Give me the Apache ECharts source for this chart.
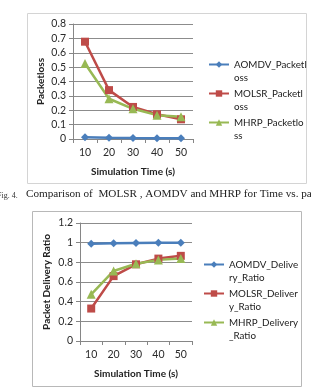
<!DOCTYPE html>
<html><head><meta charset="utf-8">
<script src="https://cdn.jsdelivr.net/npm/echarts@6/dist/echarts.min.js"></script>
<style>html,body{margin:0;padding:0;background:#fff}#c{width:311px;height:389px}</style>
</head><body><div id="c"></div>
<script>
const categories = ['10','20','30','40','50'];
const lossNames = ['AOMDV_Packetloss','MOLSR_Packetloss','MHRP_Packetloss'];
const lossLegend = ['AOMDV_Packetl\noss','MOLSR_Packetl\noss','MHRP_Packetlo\nss'];
const aomdvLoss = [0.013, 0.009, 0.007, 0.006, 0.005];
const molsrLoss = [0.677, 0.34, 0.223, 0.172, 0.137];
const mhrpLoss = [0.525, 0.28, 0.21, 0.166, 0.155];
const pdrNames = ['AOMDV_Delivery_Ratio','MOLSR_Delivery_Ratio','MHRP_Delivery_Ratio'];
const pdrLegend = ['AOMDV_Delive\nry_Ratio','MOLSR_Deliver\ny_Ratio','MHRP_Delivery\n_Ratio'];
const aomdvPdr = [0.99, 0.994, 0.996, 0.998, 1.0];
const molsrPdr = [0.33, 0.66, 0.78, 0.838, 0.866];
const mhrpPdr = [0.475, 0.712, 0.785, 0.825, 0.838];
const lossTicks = {min:0, max:0.8, interval:0.1};
const pdrTicks = {min:0, max:1.2, interval:0.2};
const xTitle = 'Simulation Time (s)';
const yTitles = ['Packetloss','Packet Delivery Ratio'];
const captionText = 'Comparison of  MOLSR , AOMDV and MHRP for Time vs. packet';
const figLabel = 'Fig. 4.';

const colors = ['#4A7EBB','#BE4B48','#98B954'];
const symbols = ['diamond','rect','triangle'];
const symSizes = [8,8,9];
const FONT = 'Lato';
const chart = echarts.init(document.getElementById('c'));

function xAx(gi){return {type:'category',gridIndex:gi,data:categories,boundaryGap:true,
  name:xTitle,nameLocation:'middle',nameGap:28,
  nameTextStyle:{fontFamily:FONT,fontWeight:'bold',fontSize:10,color:'#222'},
  axisLine:{lineStyle:{color:'#868686'}},axisTick:{show:true,length:4,lineStyle:{color:'#868686'}},
  axisLabel:{fontFamily:FONT,fontSize:10.5,color:'#2a2a2a',margin:8}};}
function yAx(gi,t,name,gap){return {type:'value',gridIndex:gi,min:t.min,max:t.max,interval:t.interval,
  name:name,nameLocation:'middle',nameGap:gap,nameRotate:90,
  nameTextStyle:{fontFamily:FONT,fontWeight:'bold',fontSize:10,color:'#222'},
  axisLine:{show:true,lineStyle:{color:'#868686'}},axisTick:{show:true,inside:false,length:4,lineStyle:{color:'#868686'}},
  splitLine:{lineStyle:{color:'#8c8c8c',width:1}},
  axisLabel:{fontFamily:FONT,fontSize:10.5,color:'#2a2a2a',margin:7,
    formatter:v=>String(Math.round(v*10)/10)}};}
function ser(name,data,i,ax){return {name:name,type:'line',data:data,xAxisIndex:ax,yAxisIndex:ax,
  symbol:symbols[i],symbolSize:symSizes[i],color:colors[i],
  lineStyle:{width:2.5,color:colors[i]},itemStyle:{color:colors[i]},animation:false};}
function leg(names,labels,left,top){const map={};names.forEach((n,i)=>map[n]=' \n'+labels[i]);
  return {data:names,orient:'vertical',left:left,top:top,padding:0,itemWidth:20,itemHeight:8,itemGap:-10,
  formatter:n=>map[n],
  textStyle:{fontFamily:FONT,fontSize:9.8,color:'#222',lineHeight:13}};}

chart.setOption({
  animation:false,
  grid:[{left:73,top:24,width:120,height:115},{left:80,top:223,width:112,height:118}],
  xAxis:[xAx(0),xAx(1)],
  yAxis:[yAx(0,lossTicks,yTitles[0],27),yAx(1,pdrTicks,yTitles[1],28)],
  legend:[leg(lossNames,lossLegend,208,45),leg(pdrNames,pdrLegend,203,245)],
  series:[ser(lossNames[0],aomdvLoss,0,0),ser(lossNames[1],molsrLoss,1,0),ser(lossNames[2],mhrpLoss,2,0),
          ser(pdrNames[0],aomdvPdr,0,1),ser(pdrNames[1],molsrPdr,1,1),ser(pdrNames[2],mhrpPdr,2,1)],
  graphic:[
    {type:'rect',shape:{x:27.5,y:13.5,width:279,height:170},style:{fill:'none',stroke:'#d4d4d4',lineWidth:1},z:-1},
    {type:'rect',shape:{x:32.5,y:211.5,width:269,height:175},style:{fill:'none',stroke:'#b8b8b8',lineWidth:1},z:-1},
    {type:'text',left:-3,top:192,style:{text:figLabel,font:'8px "Liberation Serif"',fill:'#333'}},
    {type:'text',left:26,top:189,style:{text:captionText,font:'11.2px "Liberation Serif"',fill:'#222'}}
  ]
});
</script></body></html>
